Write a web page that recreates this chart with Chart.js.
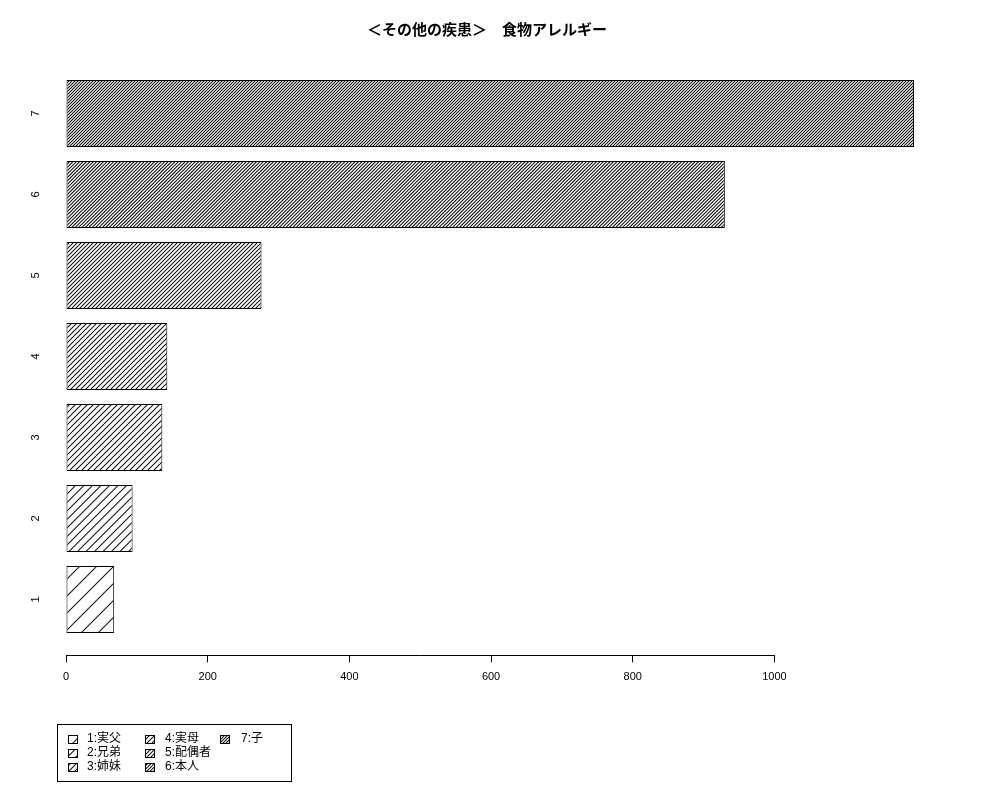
<!DOCTYPE html>
<html>
<head>
<meta charset="utf-8">
<script src="https://cdn.jsdelivr.net/npm/chart.js@4.4.0/dist/chart.umd.min.js"></script>
<style>
body { margin: 0; background: #fff; }
#wrap { width: 1000px; height: 800px; }
</style>
</head>
<body>
<div id="wrap"><canvas id="myChart" width="1000" height="800"></canvas></div>
<script>
const categories = [1, 2, 3, 4, 5, 6, 7];
const legendLabels = ['1:実父', '2:兄弟', '3:姉妹', '4:実母', '5:配偶者', '6:本人', '7:子'];
const values = [68, 94, 136, 143, 276, 930, 1197];
const xTicks = [0, 200, 400, 600, 800, 1000];
const titleText = '＜その他の疾患＞　食物アレルギー';

const FONT = '"Liberation Sans", "Noto Sans CJK JP", sans-serif';
const canvas = document.getElementById('myChart');
const ctx = canvas.getContext('2d');

// hatch tile for each bar: [tile size, lines per tile]
const hatch = [[17, 1], [17, 2], [6, 1], [5, 1], [4, 1], [17, 5], [3, 1]];

// "/" hatching, 1px wide lines, shaded by supersampling so it looks antialiased
function makePattern(size, n) {
  const c = document.createElement('canvas');
  c.width = size;
  c.height = size;
  const g = c.getContext('2d');
  const img = g.createImageData(size, size);
  const step = size / n;
  const SS = 8;
  for (let y = 0; y < size; y++) {
    for (let x = 0; x < size; x++) {
      let hit = 0;
      for (let sy = 0; sy < SS; sy++) {
        for (let sx = 0; sx < SS; sx++) {
          const t = (x + (sx + 0.5) / SS + y + (sy + 0.5) / SS) % size;
          const r = t % step;
          const d = Math.min(r, step - r);
          if (d <= 0.7071) hit++;
        }
      }
      const v = Math.round(255 * (1 - hit / (SS * SS)));
      const o = (y * size + x) * 4;
      img.data[o] = v; img.data[o + 1] = v; img.data[o + 2] = v; img.data[o + 3] = 255;
    }
  }
  g.putImageData(img, 0, 0);
  return ctx.createPattern(c, 'repeat');
}

const patterns = hatch.map(h => makePattern(h[0], h[1]));

// axis line only from 0 to 1000, plus the boxed legend below
const extras = {
  id: 'extras',
  afterDraw(chart) {
    const { ctx, chartArea, scales } = chart;
    const xs = scales.x;
    ctx.save();
    ctx.strokeStyle = '#000';
    ctx.lineWidth = 1;
    const y0 = Math.round(chartArea.bottom) + 0.5;
    ctx.beginPath();
    ctx.moveTo(xs.getPixelForValue(xTicks[0]), y0);
    ctx.lineTo(xs.getPixelForValue(xTicks[xTicks.length - 1]), y0);
    ctx.stroke();

    // legend
    ctx.strokeRect(57.5, 724.5, 234, 57);
    const swatchX = [68, 145, 220];
    const textX = [87, 165, 241];
    const rowY = [739, 753, 767];
    ctx.font = '12px ' + FONT;
    ctx.textBaseline = 'middle';
    ctx.textAlign = 'left';
    legendLabels.forEach((lab, i) => {
      const col = Math.floor(i / 3), row = i % 3;
      ctx.fillStyle = patterns[i];
      ctx.fillRect(swatchX[col], rowY[row] - 4, 9, 8);
      ctx.strokeRect(swatchX[col] + 0.5, rowY[row] - 3.5, 9, 8);
      ctx.fillStyle = '#000';
      ctx.fillText(lab, textX[col], rowY[row]);
    });
    ctx.restore();
  }
};

new Chart(ctx, {
  type: 'bar',
  data: {
    datasets: [{
      data: values.map((v, i) => ({ x: v, y: categories[i] })),
      backgroundColor: patterns,
      borderColor: '#000',
      borderWidth: 1,
      borderSkipped: false,
      barPercentage: 1,
      categoryPercentage: 0.827
    }]
  },
  options: {
    indexAxis: 'y',
    responsive: false,
    animation: false,
    devicePixelRatio: 1,
    layout: { padding: { left: 26, right: 52, top: 0, bottom: 104.6 } },
    plugins: {
      legend: { display: false },
      tooltip: { enabled: false },
      title: {
        display: true,
        text: titleText,
        color: '#000',
        font: { family: '"Noto Sans CJK JP", sans-serif', size: 15, weight: 'bold', lineHeight: 1.2 },
        padding: { top: 20, bottom: 19.6 }
      }
    },
    scales: {
      x: {
        type: 'linear',
        position: 'bottom',
        min: 0,
        max: 1245,
        afterBuildTicks: s => { s.ticks = xTicks.map(v => ({ value: v })); },
        afterFit: s => { s.height = 40; },
        border: { display: false },
        grid: { drawOnChartArea: false, drawTicks: true, tickLength: 7, color: '#000', lineWidth: 1 },
        ticks: { color: '#000', font: { family: FONT, size: 11 }, padding: 8, maxRotation: 0, autoSkip: false, callback: v => String(v) }
      },
      y: {
        type: 'linear',
        offset: false,
        min: 0.31,
        max: 7.69,
        afterBuildTicks: s => { s.ticks = categories.map(v => ({ value: v })); },
        afterFit: s => { s.width = 40; },
        border: { display: false },
        grid: { display: false, drawTicks: false, offset: false },
        ticks: { color: '#000', font: { family: FONT, size: 11 }, minRotation: 90, maxRotation: 90, crossAlign: 'center', padding: 27, callback: v => String(v) }
      }
    }
  },
  plugins: [extras]
});
</script>
</body>
</html>
